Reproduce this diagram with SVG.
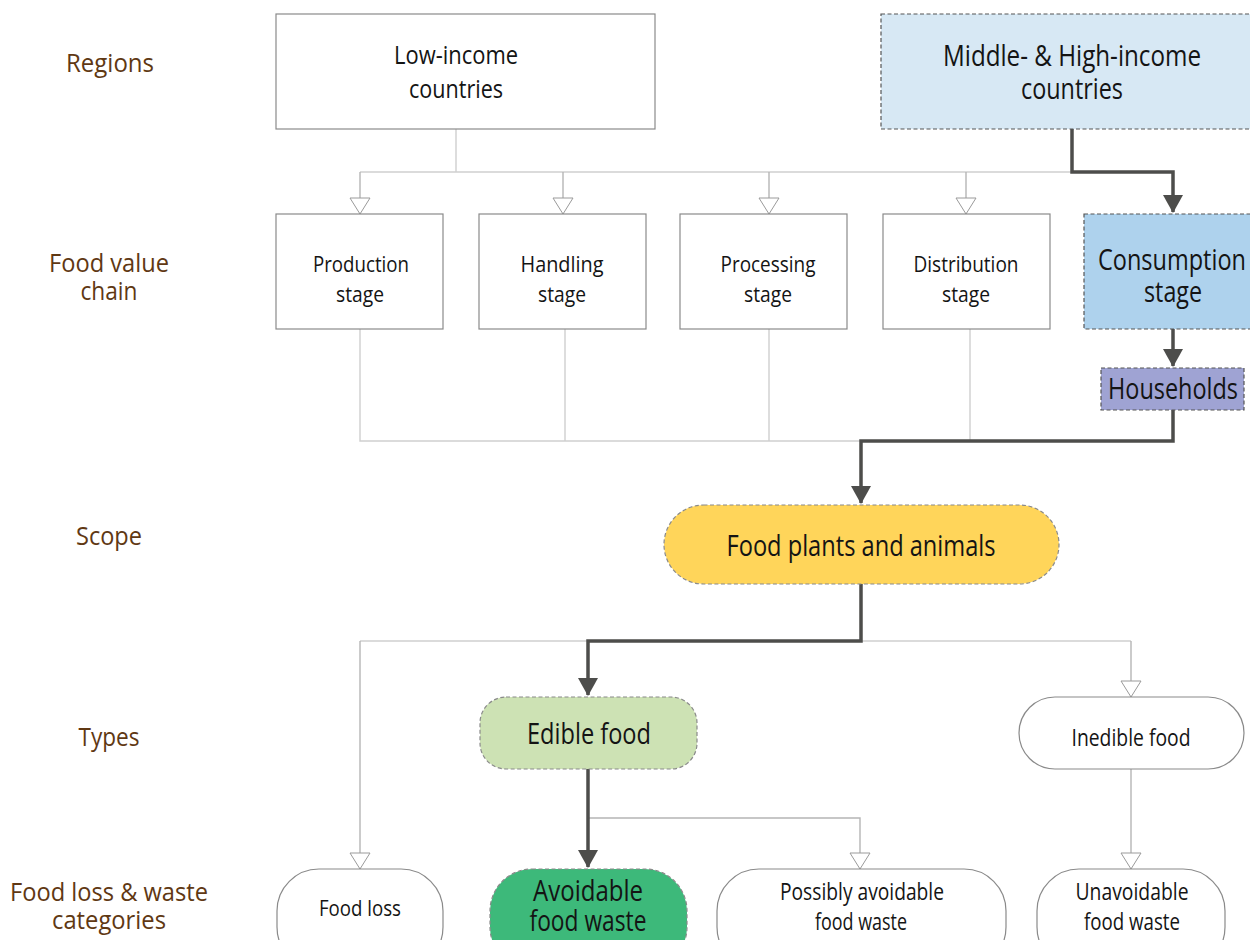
<svg xmlns="http://www.w3.org/2000/svg" width="1250" height="940" viewBox="0 0 1250 940">
  <defs>
    <marker id="hollow" markerWidth="22" markerHeight="18" refX="11" refY="17" markerUnits="userSpaceOnUse" viewBox="0 0 22 18">
      <path d="M1,1 L21,1 L11,17 Z" fill="#fff" stroke="#9a9a9a" stroke-width="1"/>
    </marker>
    <marker id="solid" markerWidth="22" markerHeight="18" refX="11" refY="17" markerUnits="userSpaceOnUse" viewBox="0 0 22 18">
      <path d="M1,0 L21,0 L11,18 Z" fill="#4d4d4b"/>
    </marker>
  </defs>
  <style>
    text { font-family: "Open Sans", "Noto Sans", "Liberation Sans", sans-serif; text-anchor: middle; fill: #141414; }
    .lbl { fill: #603813; font-size: 25px; font-weight: 500; }
    .plain { fill: #fff; stroke: #8a8a8a; stroke-width: 1.2; }
    .dash { stroke: #555; stroke-width: 1.2; stroke-dasharray: 4 2.5; }
    .dashg { stroke: #8a8a8a; stroke-width: 1.2; stroke-dasharray: 4 2.5; }
    .thin { fill: none; stroke: #cfcfcf; stroke-width: 1.4; }
    .thinA { fill: none; stroke: #b5b5b5; stroke-width: 1.4; marker-end: url(#hollow); }
    .thickA { fill: none; stroke: #4d4d4b; stroke-width: 3.5; marker-end: url(#solid); }
  </style>

  <rect width="1250" height="940" fill="#fff"/>

  <!-- row labels -->
  <g id="row-labels">
    <text class="lbl" x="110" y="72" textLength="88" lengthAdjust="spacingAndGlyphs">Regions</text>
    <text class="lbl" x="109" y="272" textLength="120" lengthAdjust="spacingAndGlyphs">Food value</text>
    <text class="lbl" x="109" y="300" textLength="57" lengthAdjust="spacingAndGlyphs">chain</text>
    <text class="lbl" x="109" y="545" textLength="66" lengthAdjust="spacingAndGlyphs">Scope</text>
    <text class="lbl" x="109" y="746" textLength="61" lengthAdjust="spacingAndGlyphs">Types</text>
    <text class="lbl" x="109" y="901" textLength="198" lengthAdjust="spacingAndGlyphs">Food loss &amp; waste</text>
    <text class="lbl" x="109" y="929" textLength="114" lengthAdjust="spacingAndGlyphs">categories</text>
  </g>

  <!-- connectors -->
  <g id="connectors">
    <!-- low-income branch to stages -->
    <path class="thin" d="M456,129 V172"/>
    <path class="thin" d="M360,172 H1072"/>
    <path class="thinA" d="M360,172 V214"/>
    <path class="thinA" d="M563,172 V214"/>
    <path class="thinA" d="M769,172 V214"/>
    <path class="thinA" d="M966,172 V214"/>
    <!-- stages merge -->
    <path class="thin" d="M360,329 V441 H1173"/>
    <path class="thin" d="M565,329 V441"/>
    <path class="thin" d="M769,329 V441"/>
    <path class="thin" d="M970,329 V441"/>
    <!-- scope split -->
    <path class="thin" d="M360,641 H1131"/>
    <path class="thinA" d="M360,641 V869"/>
    <path class="thinA" d="M1131,641 V697"/>
    <path class="thinA" d="M588,818 H860 V869"/>
    <path class="thinA" d="M1131,769 V869"/>
    <!-- highlighted path -->
    <path class="thickA" d="M1072,129 V172 H1173 V212"/>
    <path class="thickA" d="M1173,329 V366"/>
    <path class="thickA" d="M1173,410 V441 H861 V503"/>
    <path class="thickA" d="M861,584 V641 H588 V695"/>
    <path class="thickA" d="M588,769 V867"/>
  </g>

  <!-- regions -->
  <g id="low-income">
    <rect class="plain" x="276" y="14" width="379" height="115"/>
    <text x="456" y="64" font-size="26" textLength="124" lengthAdjust="spacingAndGlyphs">Low-income</text>
    <text x="456" y="98" font-size="26" textLength="94" lengthAdjust="spacingAndGlyphs">countries</text>
  </g>
  <g id="middle-high-income">
    <rect class="dash" x="881" y="14" width="380" height="115" fill="#d7e8f4"/>
    <text x="1072" y="66" font-size="30" textLength="258" lengthAdjust="spacingAndGlyphs">Middle- &amp; High-income</text>
    <text x="1072" y="99" font-size="30" textLength="102" lengthAdjust="spacingAndGlyphs">countries</text>
  </g>

  <!-- food value chain stages -->
  <g id="production">
    <rect class="plain" x="276" y="214" width="167" height="115"/>
    <text x="361" y="272" font-size="22.5" textLength="96" lengthAdjust="spacingAndGlyphs">Production</text>
    <text x="360" y="302" font-size="22.5" textLength="48" lengthAdjust="spacingAndGlyphs">stage</text>
  </g>
  <g id="handling">
    <rect class="plain" x="479" y="214" width="167" height="115"/>
    <text x="562" y="272" font-size="22.5" textLength="83" lengthAdjust="spacingAndGlyphs">Handling</text>
    <text x="562" y="302" font-size="22.5" textLength="48" lengthAdjust="spacingAndGlyphs">stage</text>
  </g>
  <g id="processing">
    <rect class="plain" x="680" y="214" width="167" height="115"/>
    <text x="768" y="272" font-size="22.5" textLength="95" lengthAdjust="spacingAndGlyphs">Processing</text>
    <text x="768" y="302" font-size="22.5" textLength="48" lengthAdjust="spacingAndGlyphs">stage</text>
  </g>
  <g id="distribution">
    <rect class="plain" x="883" y="214" width="167" height="115"/>
    <text x="966" y="272" font-size="22.5" textLength="105" lengthAdjust="spacingAndGlyphs">Distribution</text>
    <text x="966" y="302" font-size="22.5" textLength="48" lengthAdjust="spacingAndGlyphs">stage</text>
  </g>
  <g id="consumption">
    <rect class="dash" x="1084" y="214" width="176" height="115" fill="#aed2ed"/>
    <text x="1172" y="270" font-size="30" textLength="148" lengthAdjust="spacingAndGlyphs">Consumption</text>
    <text x="1173" y="302" font-size="30" textLength="58" lengthAdjust="spacingAndGlyphs">stage</text>
  </g>
  <g id="households">
    <rect class="dash" x="1101" y="368" width="143" height="42" fill="#9fa3d3"/>
    <text x="1173" y="399" font-size="29" textLength="130" lengthAdjust="spacingAndGlyphs">Households</text>
  </g>

  <!-- scope -->
  <g id="food-plants-animals">
    <rect class="dashg" x="664" y="505" width="395" height="79" rx="39.5" fill="#ffd55a"/>
    <text x="861" y="556" font-size="30" textLength="269" lengthAdjust="spacingAndGlyphs">Food plants and animals</text>
  </g>

  <!-- types -->
  <g id="edible-food">
    <rect class="dashg" x="480" y="697" width="217" height="72" rx="26" fill="#cde2b4"/>
    <text x="589" y="744" font-size="30" textLength="124" lengthAdjust="spacingAndGlyphs">Edible food</text>
  </g>
  <g id="inedible-food">
    <rect class="plain" x="1019" y="697" width="225" height="72" rx="36" stroke="#333" stroke-width="1"/>
    <text x="1131" y="746" font-size="23.5" textLength="119" lengthAdjust="spacingAndGlyphs">Inedible food</text>
  </g>

  <!-- categories -->
  <g id="food-loss">
    <rect class="plain" x="277" y="869" width="166" height="100" rx="42" stroke="#333" stroke-width="1"/>
    <text x="360" y="916" font-size="22.5" textLength="82" lengthAdjust="spacingAndGlyphs">Food loss</text>
  </g>
  <g id="avoidable-food-waste">
    <rect class="dashg" x="490" y="869" width="197" height="100" rx="42" fill="#3db97a"/>
    <text x="588" y="901" font-size="30" textLength="110" lengthAdjust="spacingAndGlyphs">Avoidable</text>
    <text x="588" y="931" font-size="30" textLength="117" lengthAdjust="spacingAndGlyphs">food waste</text>
  </g>
  <g id="possibly-avoidable-food-waste">
    <rect class="plain" x="717" y="869" width="289" height="100" rx="42" stroke="#333" stroke-width="1"/>
    <text x="862" y="900" font-size="23.5" textLength="164" lengthAdjust="spacingAndGlyphs">Possibly avoidable</text>
    <text x="861" y="930" font-size="23.5" textLength="92" lengthAdjust="spacingAndGlyphs">food waste</text>
  </g>
  <g id="unavoidable-food-waste">
    <rect class="plain" x="1037" y="869" width="188" height="100" rx="42" stroke="#333" stroke-width="1"/>
    <text x="1132" y="900" font-size="23.5" textLength="113" lengthAdjust="spacingAndGlyphs">Unavoidable</text>
    <text x="1132" y="930" font-size="23.5" textLength="96" lengthAdjust="spacingAndGlyphs">food waste</text>
  </g>
</svg>
